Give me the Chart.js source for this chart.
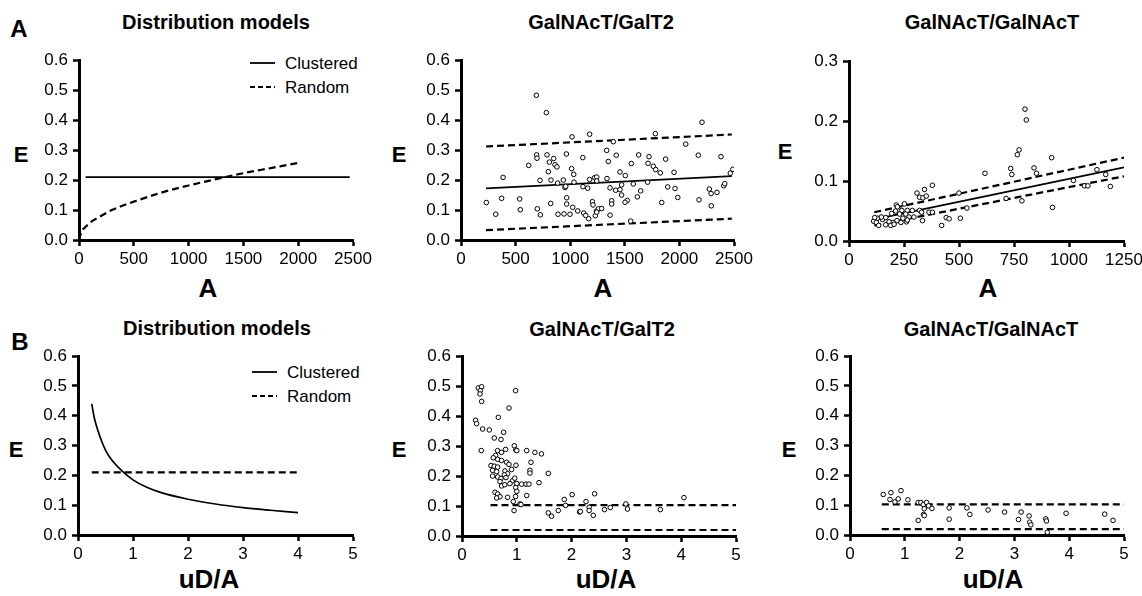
<!DOCTYPE html>
<html lang="en">
<head>
    <meta charset="UTF-8">
    <title>Distribution models</title>
    <script src="https://cdn.jsdelivr.net/npm/chart.js@4.4.1/dist/chart.umd.min.js"></script>
    <style>
        * { margin: 0; padding: 0; box-sizing: border-box; }
        body {
            width: 1142px;
            height: 596px;
            background: #fff;
            position: relative;
            overflow: hidden;
            font-family: 'Liberation Sans', Arial, sans-serif;
            color: #000;
        }
        canvas { position: absolute; }
        .lbl {
            position: absolute;
            transform: translate(-50%, -50%);
            white-space: nowrap;
            line-height: 1;
            font-weight: bold;
        }
        .title { font-size: 20px; }
        .axt { font-size: 26px; }
        .ey { font-size: 22px; }
        .panel { font-size: 24px; }
        .legend {
            position: absolute;
            font-size: 17px;
            line-height: 1;
        }
        .legend div { display: flex; align-items: center; height: 24px; }
        .legend svg { margin-right: 10px; }
    </style>
</head>
<body>
    <div class="lbl panel" style="left:19px; top:29px">A</div>
    <div class="lbl panel" style="left:20px; top:342px">B</div>

    <div class="lbl title" style="left:216px; top:22px">Distribution models</div>
    <div class="lbl title" style="left:601px; top:22px">GalNAcT/GalT2</div>
    <div class="lbl title" style="left:992px; top:22px">GalNAcT/GalNAcT</div>
    <div class="lbl title" style="left:217px; top:328px">Distribution models</div>
    <div class="lbl title" style="left:602px; top:329px">GalNAcT/GalT2</div>
    <div class="lbl title" style="left:991px; top:329px">GalNAcT/GalNAcT</div>

    <div class="lbl ey" style="left:21px; top:155px">E</div>
    <div class="lbl ey" style="left:399px; top:155px">E</div>
    <div class="lbl ey" style="left:785px; top:152px">E</div>
    <div class="lbl ey" style="left:16px; top:450px">E</div>
    <div class="lbl ey" style="left:399px; top:450px">E</div>
    <div class="lbl ey" style="left:789px; top:450px">E</div>

    <div class="lbl axt" style="left:208px; top:288px">A</div>
    <div class="lbl axt" style="left:603px; top:288px">A</div>
    <div class="lbl axt" style="left:988px; top:288px">A</div>
    <div class="lbl axt" style="left:209px; top:579px">uD/A</div>
    <div class="lbl axt" style="left:606px; top:579px">uD/A</div>
    <div class="lbl axt" style="left:993px; top:579px">uD/A</div>

    <div class="legend" style="left:250px; top:51px">
        <div><svg width="25" height="4"><line x1="0" y1="2" x2="25" y2="2" stroke="#000" stroke-width="1.8"/></svg>Clustered</div>
        <div><svg width="25" height="4"><line x1="0" y1="2" x2="25" y2="2" stroke="#000" stroke-width="1.8" stroke-dasharray="5,3"/></svg>Random</div>
    </div>
    <div class="legend" style="left:252px; top:360px">
        <div><svg width="25" height="4"><line x1="0" y1="2" x2="25" y2="2" stroke="#000" stroke-width="1.8"/></svg>Clustered</div>
        <div><svg width="25" height="4"><line x1="0" y1="2" x2="25" y2="2" stroke="#000" stroke-width="1.8" stroke-dasharray="5,3"/></svg>Random</div>
    </div>

    <script>
        // tick labels
        const ticksA = [0, 500, 1000, 1500, 2000, 2500];
        const ticksA3 = [0, 250, 500, 750, 1000, 1250];
        const ticksUDA = [0, 1, 2, 3, 4, 5];
        const ticksE = [0, 0.1, 0.2, 0.3, 0.4, 0.5, 0.6];
        const ticksE3 = [0, 0.1, 0.2, 0.3];

        // A, distribution models
        const a1ClusteredA = [60, 2470];
        const a1ClusteredE = [0.21, 0.21];
        const a1RandomA = [0, 25, 50, 100, 200, 300, 400, 500, 750, 1000, 1250, 1500, 1750, 2000];
        const a1RandomE = [0, 0.03, 0.04, 0.058, 0.08, 0.10, 0.115, 0.128, 0.158, 0.182, 0.203, 0.223, 0.240, 0.257];

        // A, GalNAcT/GalT2
        const a2A = [232, 318, 372, 385, 537, 543, 620, 690, 782, 1017, 1178, 693, 696, 724, 699, 727, 788, 809, 849, 861,
            879, 824, 800, 821, 885, 888, 937, 943, 965, 952, 959, 968, 968, 998, 1013, 1032, 1035, 1023, 1069, 1115,
            1124, 1117, 1160, 1178, 1169, 1142, 1203, 1209, 1224, 1230, 1240,
            2207, 1780, 1395, 2058, 1334, 1349, 1422, 1560, 1627, 1722, 1713, 1761, 1783, 1825, 1874, 1951, 2173, 2381, 1456, 1505,
            1337, 1243, 1243, 1471, 1578, 1709, 1365, 1416, 1456, 1471, 1645, 1615, 1523, 1502, 1380, 1380, 1838, 1893, 1960, 1985,
            2180, 2274, 2290, 2344, 2292, 2406, 2415, 2466, 2490, 1258, 1288, 1243, 1365, 1554];
        const a2E = [0.125, 0.086, 0.139, 0.209, 0.137, 0.101, 0.249, 0.483, 0.425, 0.344, 0.353, 0.284, 0.273, 0.199, 0.104, 0.084, 0.284, 0.260, 0.272, 0.251,
            0.244, 0.200, 0.228, 0.122, 0.190, 0.086, 0.200, 0.087, 0.287, 0.175, 0.179, 0.141, 0.120, 0.086, 0.238, 0.219, 0.193, 0.109, 0.097, 0.275,
            0.090, 0.178, 0.173, 0.202, 0.071, 0.082, 0.128, 0.117, 0.208, 0.081, 0.096,
            0.393, 0.355, 0.328, 0.320, 0.299, 0.262, 0.283, 0.255, 0.284, 0.278, 0.256, 0.246, 0.235, 0.224, 0.270, 0.226, 0.283, 0.278, 0.227, 0.215,
            0.205, 0.210, 0.197, 0.184, 0.187, 0.193, 0.174, 0.166, 0.168, 0.150, 0.164, 0.144, 0.132, 0.126, 0.131, 0.120, 0.125, 0.177, 0.172, 0.142,
            0.134, 0.170, 0.155, 0.159, 0.114, 0.181, 0.188, 0.223, 0.236, 0.104, 0.105, 0.093, 0.083, 0.063];
        const a2FitA = [229, 2480];
        const a2FitE = [0.172, 0.213];
        const a2UpperE = [0.312, 0.352];
        const a2LowerE = [0.033, 0.071];

        // A, GalNAcT/GalNAcT
        const a3A = [618, 309, 321, 336, 343, 351, 379, 252, 215, 500, 536, 506, 421, 442, 455, 334, 364, 379, 321, 330,
            265, 240, 212, 230, 258, 273, 245, 261, 265, 236, 218, 200, 182, 167, 190, 205, 152, 129, 112, 117,
            124, 135, 147, 167, 194, 220, 288, 295,
            800, 806, 773, 765, 735, 740, 921, 841, 852, 714, 786, 925, 1020, 1070, 1086, 1127, 1167, 1188];
        const a3E = [0.113, 0.080, 0.073, 0.072, 0.086, 0.075, 0.093, 0.062, 0.060, 0.080, 0.055, 0.038, 0.026, 0.039, 0.037, 0.034, 0.048, 0.048, 0.051, 0.048,
            0.051, 0.051, 0.050, 0.045, 0.045, 0.040, 0.038, 0.032, 0.035, 0.031, 0.034, 0.031, 0.032, 0.027, 0.026, 0.028, 0.036, 0.038, 0.033, 0.039,
            0.031, 0.026, 0.040, 0.039, 0.046, 0.057, 0.051, 0.040,
            0.220, 0.202, 0.152, 0.144, 0.121, 0.111, 0.139, 0.122, 0.113, 0.071, 0.067, 0.056, 0.101, 0.092, 0.092, 0.119, 0.111, 0.091];
        const a3FitA = [115, 1250];
        const a3FitE = [0.036, 0.123];
        const a3UpperE = [0.048, 0.139];
        const a3LowerE = [0.026, 0.108];

        // B, distribution models
        const b1ClusteredU = [0.25, 0.3, 0.4, 0.5, 0.6, 0.8, 1, 1.25, 1.5, 2, 2.5, 3, 3.5, 4];
        const b1ClusteredE = [0.44, 0.39, 0.33, 0.285, 0.255, 0.215, 0.185, 0.16, 0.143, 0.12, 0.104, 0.092, 0.083, 0.075];
        const b1RandomU = [0.25, 4.03];
        const b1RandomE = [0.21, 0.21];

        // B, GalNAcT/GalT2
        const b2U = [0.297, 0.358, 0.334, 0.328, 0.358, 0.978, 0.858, 0.663, 0.248, 0.266, 0.377, 0.498, 0.759, 0.589, 0.712, 0.352, 0.954, 0.982, 1.00, 1.18,
            1.33, 1.45, 0.796, 0.65, 0.72, 0.614, 0.571, 0.65, 0.72, 0.814, 0.857, 0.529, 0.589, 0.65, 0.905, 0.558, 0.632, 0.784, 0.832, 0.558,
            0.65, 0.711, 0.772, 0.802, 0.693, 0.918, 0.875, 0.723, 0.78, 1.0, 1.088, 1.168, 1.222, 1.259, 1.24, 1.24, 0.985, 1.575, 1.405, 0.963,
            0.602, 0.65, 0.693, 0.632, 0.832, 0.98, 1.0, 0.978, 1.18, 1.058, 1.076, 0.95, 0.936, 1.575, 1.635, 1.757, 1.867, 1.89, 2.01, 2.146,
            2.263, 2.32, 2.32, 2.396, 2.42, 2.16, 2.60, 2.706, 2.99, 3.02, 3.62, 4.05];
        const b2E = [0.494, 0.498, 0.485, 0.474, 0.449, 0.485, 0.427, 0.396, 0.386, 0.375, 0.357, 0.354, 0.346, 0.327, 0.322, 0.285, 0.301, 0.287, 0.285, 0.285,
            0.279, 0.274, 0.289, 0.285, 0.279, 0.269, 0.261, 0.256, 0.252, 0.246, 0.239, 0.235, 0.233, 0.230, 0.222, 0.219, 0.215, 0.217, 0.208, 0.200,
            0.197, 0.192, 0.204, 0.195, 0.182, 0.184, 0.175, 0.167, 0.171, 0.175, 0.173, 0.173, 0.173, 0.246, 0.219, 0.210, 0.236, 0.209, 0.178, 0.193,
            0.146, 0.140, 0.131, 0.127, 0.129, 0.162, 0.149, 0.132, 0.135, 0.107, 0.105, 0.085, 0.115, 0.077, 0.066, 0.085, 0.122, 0.102, 0.138, 0.080,
            0.115, 0.096, 0.085, 0.069, 0.141, 0.082, 0.088, 0.095, 0.107, 0.090, 0.088, 0.128];
        const b2LineU = [0.52, 5];
        const b2UpperE = [0.103, 0.103];
        const b2LowerE = [0.02, 0.02];

        // B, GalNAcT/GalNAcT
        const b3U = [0.607, 0.747, 0.93, 0.729, 0.82, 0.88, 1.057, 1.245, 1.294, 1.337, 1.397, 1.434, 1.495, 1.355, 1.343, 1.355, 1.245, 1.81, 1.81, 2.133,
            2.187, 2.52, 2.82, 3.123, 3.075, 3.268, 3.28, 3.30, 3.573, 3.585, 3.60, 3.943, 4.648, 4.80];
        const b3E = [0.136, 0.142, 0.149, 0.119, 0.111, 0.121, 0.118, 0.109, 0.109, 0.102, 0.109, 0.098, 0.089, 0.088, 0.069, 0.065, 0.049, 0.091, 0.053, 0.091,
            0.069, 0.084, 0.077, 0.077, 0.052, 0.064, 0.043, 0.034, 0.054, 0.047, 0.009, 0.073, 0.070, 0.049];
        const b3LineU = [0.58, 5];
        const b3UpperE = [0.103, 0.103];
        const b3LowerE = [0.02, 0.02];

        Chart.defaults.font.family = "'Liberation Sans', Arial, sans-serif";

        function xy(xs, ys) {
            return xs.map((x, i) => ({ x: x, y: ys[i] }));
        }

        function dots(xs, ys) {
            return {
                data: xy(xs, ys),
                showLine: false,
                pointRadius: 2.3,
                pointBorderWidth: 1,
                pointBackgroundColor: '#fff',
                pointBorderColor: '#000'
            };
        }

        function line(xs, ys, dashed) {
            return {
                data: xy(xs, ys),
                showLine: true,
                pointRadius: 0,
                borderColor: '#000',
                borderWidth: dashed ? 2.2 : 1.7,
                borderDash: dashed ? [7, 4] : [],
                cubicInterpolationMode: 'monotone'
            };
        }

        function scale(ticks, dec, isX) {
            return {
                type: 'linear',
                position: isX ? 'bottom' : 'left',
                min: ticks[0],
                max: ticks[ticks.length - 1],
                afterBuildTicks: s => { s.ticks = ticks.map(v => ({ value: v })); },
                afterFit: s => { if (isX) s.height = 30; else s.width = 45; },
                border: { display: true, color: '#000', width: 3 },
                grid: { display: true, drawOnChartArea: false, drawTicks: true, tickLength: 6, tickWidth: 2.5, color: '#000' },
                ticks: {
                    color: '#000',
                    font: { size: 17 },
                    padding: isX ? 3 : 5,
                    maxRotation: 0,
                    autoSkip: false,
                    callback: v => v.toFixed(dec)
                }
            };
        }

        // box = plot area in page pixels
        function panel(box, xTicks, xDec, yTicks, datasets) {
            const c = document.createElement('canvas');
            c.width = box.R - box.L + 70;
            c.height = box.B - box.T + 42;
            c.style.left = (box.L - 45) + 'px';
            c.style.top = (box.T - 12) + 'px';
            document.body.appendChild(c);
            new Chart(c, {
                type: 'scatter',
                data: { datasets: datasets },
                options: {
                    responsive: false,
                    animation: false,
                    devicePixelRatio: 1,
                    layout: { padding: { left: 0, top: 12, right: 25, bottom: 0 } },
                    plugins: { legend: { display: false }, tooltip: { enabled: false } },
                    scales: { x: scale(xTicks, xDec, true), y: scale(yTicks, 1, false) }
                }
            });
        }

        panel({ L: 79, R: 353, T: 57, B: 240 }, ticksA, 0, ticksE, [
            line(a1ClusteredA, a1ClusteredE, false),
            line(a1RandomA, a1RandomE, true)
        ]);
        panel({ L: 461, R: 734, T: 57, B: 240 }, ticksA, 0, ticksE, [
            dots(a2A, a2E),
            line(a2FitA, a2FitE, false),
            line(a2FitA, a2UpperE, true),
            line(a2FitA, a2LowerE, true)
        ]);
        panel({ L: 849, R: 1124, T: 58, B: 241 }, ticksA3, 0, ticksE3, [
            dots(a3A, a3E),
            line(a3FitA, a3FitE, false),
            line(a3FitA, a3UpperE, true),
            line(a3FitA, a3LowerE, true)
        ]);
        panel({ L: 78, R: 353, T: 353, B: 535 }, ticksUDA, 0, ticksE, [
            line(b1ClusteredU, b1ClusteredE, false),
            line(b1RandomU, b1RandomE, true)
        ]);
        panel({ L: 462, R: 736, T: 353, B: 536 }, ticksUDA, 0, ticksE, [
            dots(b2U, b2E),
            line(b2LineU, b2UpperE, true),
            line(b2LineU, b2LowerE, true)
        ]);
        panel({ L: 850, R: 1124, T: 353, B: 535 }, ticksUDA, 0, ticksE, [
            dots(b3U, b3E),
            line(b3LineU, b3UpperE, true),
            line(b3LineU, b3LowerE, true)
        ]);
    </script>
</body>
</html>
